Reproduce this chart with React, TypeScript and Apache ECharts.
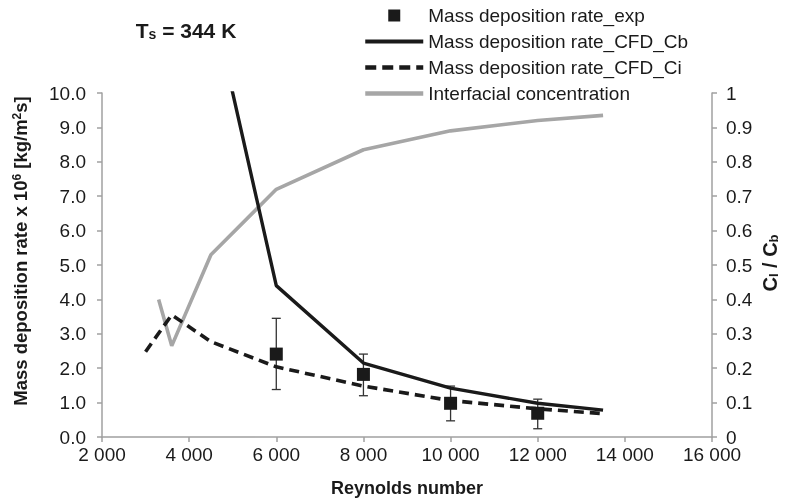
import React, { useEffect, useRef } from "react";
import * as echarts from "echarts";

// ---- data ----
const reynoldsCb = [4500, 6000, 8000, 10000, 12000, 13500];
const rateCb = [12.8, 4.4, 2.15, 1.42, 0.98, 0.78];

const reynoldsCi = [3000, 3600, 4500, 6000, 8000, 10000, 12000, 13500];
const rateCi = [2.48, 3.55, 2.77, 2.04, 1.48, 1.06, 0.82, 0.68];

const reynoldsIc = [3300, 3600, 4500, 6000, 8000, 10000, 12000, 13500];
const interfacialConc = [0.4, 0.265, 0.53, 0.72, 0.835, 0.89, 0.92, 0.935];

const reynoldsExp = [6000, 8000, 10000, 12000];
const rateExp = [2.41, 1.82, 0.98, 0.69];
const errLow = [1.38, 1.2, 0.47, 0.24];
const errHigh = [3.45, 2.41, 1.48, 1.1];

const names = {
  exp: "Mass deposition rate_exp",
  cb: "Mass deposition rate_CFD_Cb",
  ci: "Mass deposition rate_CFD_Ci",
  ic: "Interfacial concentration",
};

const FONT = "'Liberation Sans', Arial, Helvetica, sans-serif";
const TXT = "#1a1a1a";
const AXIS = "#a0a0a0";
const BLACK = "#1a1a1a";
const GRAY = "#a6a6a6";

const fmtThousands = (v: number) =>
  String(Math.round(v)).replace(/\B(?=(\d{3})+(?!\d))/g, " ");

export default function App() {
  const ref = useRef<HTMLDivElement>(null);
  useEffect(() => {
    if (!ref.current) return;
    const chart = echarts.init(ref.current, undefined, { renderer: "svg" });
    const pair = (xs: number[], ys: number[]) => xs.map((x, i) => [x, ys[i]]);
    const noSym = { opacity: 0 };
    chart.setOption({
      animation: false,
      textStyle: { fontFamily: FONT },
      grid: { left: 102, right: 74, top: 93, bottom: 64 },
      legend: {
        orient: "vertical",
        left: 363,
        top: 6,
        padding: 0,
        itemWidth: 58,
        itemHeight: 15,
        itemGap: 7,
        selectedMode: false,
        textStyle: { fontSize: 19, color: TXT, fontFamily: FONT },
        data: [
          { name: names.exp },
          { name: names.cb, itemStyle: noSym, lineStyle: { width: 4 } },
          { name: names.ci, itemStyle: noSym, lineStyle: { width: 4.5, type: [11, 6] } },
          { name: names.ic, itemStyle: noSym, lineStyle: { width: 4.5 } },
        ],
      },
      xAxis: {
        type: "value",
        min: 2000,
        max: 16000,
        interval: 2000,
        axisLine: { lineStyle: { color: AXIS, width: 1.5 } },
        axisTick: { show: true, length: 5, lineStyle: { color: AXIS, width: 1.5 } },
        splitLine: { show: false },
        axisLabel: {
          color: TXT,
          fontSize: 19,
          fontFamily: FONT,
          margin: 8,
          formatter: (v: number) => fmtThousands(v),
        },
      },
      yAxis: [
        {
          type: "value",
          min: 0,
          max: 10,
          interval: 1,
          position: "left",
          axisLine: { show: true, lineStyle: { color: AXIS, width: 1.5 } },
          axisTick: { show: true, length: 5, lineStyle: { color: AXIS, width: 1.5 } },
          splitLine: { show: false },
          axisLabel: {
            color: TXT,
            fontSize: 19,
            fontFamily: FONT,
            margin: 16,
            formatter: (v: number) => v.toFixed(1),
          },
        },
        {
          type: "value",
          min: 0,
          max: 1,
          interval: 0.1,
          position: "right",
          axisLine: { show: true, lineStyle: { color: AXIS, width: 1.5 } },
          axisTick: { show: true, length: 5, lineStyle: { color: AXIS, width: 1.5 } },
          splitLine: { show: false },
          axisLabel: {
            color: TXT,
            fontSize: 19,
            fontFamily: FONT,
            margin: 14,
            formatter: (v: number) => String(Math.round(v * 10) / 10),
          },
        },
      ],
      series: [
        {
          name: "errors",
          type: "custom",
          z: 3,
          data: reynoldsExp.map((r, i) => [r, errLow[i], errHigh[i]]),
          encode: { x: 0, y: [1, 2] },
          renderItem: (params: any, api: any) => {
            const x = api.value(0);
            const lo = api.coord([x, api.value(1)]);
            const hi = api.coord([x, api.value(2)]);
            const w = 4.5;
            const style = { stroke: "#333", lineWidth: 1.3 };
            return {
              type: "group",
              children: [
                { type: "line", shape: { x1: lo[0], y1: lo[1], x2: hi[0], y2: hi[1] }, style },
                { type: "line", shape: { x1: lo[0] - w, y1: lo[1], x2: lo[0] + w, y2: lo[1] }, style },
                { type: "line", shape: { x1: hi[0] - w, y1: hi[1], x2: hi[0] + w, y2: hi[1] }, style },
              ],
            };
          },
        },
        {
          name: names.exp,
          type: "line",
          z: 4,
          data: pair(reynoldsExp, rateExp),
          symbol: "rect",
          symbolSize: 13,
          showSymbol: true,
          itemStyle: { color: BLACK },
          lineStyle: { opacity: 0, width: 0 },
        },
        {
          name: names.cb,
          type: "line",
          z: 5,
          data: pair(reynoldsCb, rateCb),
          symbol: "none",
          clip: true,
          itemStyle: { color: BLACK },
          lineStyle: { color: BLACK, width: 3.4 },
        },
        {
          name: names.ci,
          type: "line",
          z: 5,
          data: pair(reynoldsCi, rateCi),
          symbol: "none",
          itemStyle: { color: BLACK },
          lineStyle: { color: BLACK, width: 3.6, type: [10, 6] },
        },
        {
          name: names.ic,
          type: "line",
          yAxisIndex: 1,
          z: 2,
          data: pair(reynoldsIc, interfacialConc),
          symbol: "none",
          itemStyle: { color: GRAY },
          lineStyle: { color: GRAY, width: 3.6 },
        },
      ],
      graphic: [
        {
          type: "text",
          x: 186,
          y: 30,
          style: {
            text: "T{sub|s} = 344 K",
            align: "center",
            verticalAlign: "middle",
            font: `bold 21px ${FONT}`,
            fill: TXT,
            rich: {
              sub: { fontSize: 14, fontWeight: "bold", fontFamily: FONT, verticalAlign: "bottom", fill: TXT },
            },
          },
        },
        {
          type: "text",
          x: 407,
          y: 488,
          style: {
            text: "Reynolds number",
            align: "center",
            verticalAlign: "middle",
            font: `bold 18px ${FONT}`,
            fill: TXT,
          },
        },
        {
          type: "text",
          x: 20,
          y: 251,
          rotation: Math.PI / 2,
          style: {
            text: "Mass deposition rate x 10{sup|6} [kg/m{sup|2}s]",
            align: "center",
            verticalAlign: "middle",
            font: `bold 18.5px ${FONT}`,
            fill: TXT,
            rich: {
              sup: { fontSize: 12, fontWeight: "bold", fontFamily: FONT, verticalAlign: "top", fill: TXT },
            },
          },
        },
        {
          type: "text",
          x: 770,
          y: 263,
          rotation: Math.PI / 2,
          style: {
            text: "C{sub|I} / C{sub|b}",
            align: "center",
            verticalAlign: "middle",
            font: `bold 20px ${FONT}`,
            fill: TXT,
            rich: {
              sub: { fontSize: 13, fontWeight: "bold", fontFamily: FONT, verticalAlign: "bottom", fill: TXT },
            },
          },
        },
      ],
    });
    return () => chart.dispose();
  }, []);
  return (
    <div
      ref={ref}
      style={{ position: "fixed", left: 0, top: 0, width: 786, height: 501 }}
    />
  );
}
